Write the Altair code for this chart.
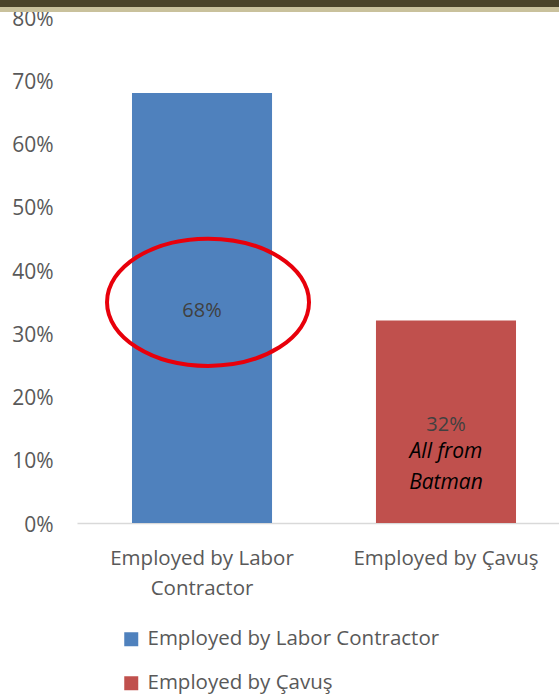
import altair as alt
import pandas as pd

categories = ["Employed by Labor Contractor", "Employed by Çavuş"]
values = [0.68, 0.32]
colors = ["#4F81BD", "#C0504D"]
y_ticks = [0, 0.1, 0.2, 0.3, 0.4, 0.5, 0.6, 0.7, 0.8]
note_lines = ["All from", "Batman"]

FONT = "Open Sans"
W, H = 482, 506

df = pd.DataFrame({"cat": categories, "val": values})

xscale = alt.Scale(domain=categories, range=[0, 494], paddingInner=0.426, paddingOuter=0.2254)
yscale = alt.Scale(domain=[0, 0.8])

base = alt.Chart(df)

bars = base.mark_bar().encode(
    x=alt.X("cat:N", scale=xscale, sort=categories,
            axis=alt.Axis(title=None, labelAngle=0, ticks=False, domainColor="#D9D9D9",
                          domainWidth=1.5, labelFontSize=20.5, labelColor="#595959",
                          labelFont=FONT, labelPadding=25, labelLineHeight=30, labelLimit=400,
                          labelExpr="datum.value == 'Employed by Labor Contractor' ? ['Employed by Labor', 'Contractor'] : datum.value")),
    y=alt.Y("val:Q", scale=yscale,
            axis=alt.Axis(title=None, values=y_ticks, format=".0%", grid=False, domain=False,
                          ticks=False, labelFontSize=21, labelColor="#595959", labelFont=FONT,
                          labelPadding=24, labelBaseline="middle", labelOffset=2)),
    color=alt.Color("cat:N", scale=alt.Scale(domain=categories, range=colors), sort=categories,
                    legend=alt.Legend(title=None, orient="none", legendX=44, legendY=612,
                                      direction="vertical", symbolType="square", symbolSize=196,
                                      symbolStrokeWidth=0, labelFontSize=20.5, labelColor="#595959",
                                      labelFont=FONT, rowPadding=23, labelOffset=6, labelLimit=400)),
)

labels = base.transform_calculate(mid="datum.val / 2").mark_text(
    fontSize=20, color="#404040", font=FONT, dy=3
).encode(
    x=alt.X("cat:N", scale=xscale, sort=categories),
    y=alt.Y("mid:Q", scale=yscale),
    text=alt.Text("val:Q", format=".0%"),
)

note_df = pd.DataFrame({"cat": [categories[1]], "y": [0.113], "txt": [note_lines]})
note = alt.Chart(note_df).mark_text(
    fontSize=21, fontStyle="italic", color="#000000", font=FONT, lineHeight=31, baseline="middle"
).encode(
    x=alt.X("cat:N", scale=xscale, sort=categories),
    y=alt.Y("y:Q", scale=yscale),
    text="txt",
)

ell_df = pd.DataFrame({"cat": [categories[0]], "y": [0.349]})
ellipse = alt.Chart(ell_df).mark_point(
    shape="M -1 0 A 1 0.63 0 1 0 1 0 A 1 0.63 0 1 0 -1 0",
    size=202 * 202, filled=False, stroke="#E8000B", strokeWidth=4, opacity=1, xOffset=6
).encode(
    x=alt.X("cat:N", scale=xscale, sort=categories),
    y=alt.Y("y:Q", scale=yscale),
)

band_df = pd.DataFrame({"k": [0]})
band_dark = alt.Chart(band_df).mark_rect(color="#4A4329").encode(
    x=alt.value(-77), x2=alt.value(W), y=alt.value(-17), y2=alt.value(-10)
)
band_light = alt.Chart(band_df).mark_rect(color="#C9C19C").encode(
    x=alt.value(-77), x2=alt.value(W), y=alt.value(-10), y2=alt.value(-5)
)

chart = alt.layer(bars, labels, note, ellipse, band_dark, band_light).properties(
    width=W, height=H,
    background="white",
    autosize=alt.AutoSizeParams(type="none"),
    padding={"left": 77, "top": 17, "right": 0, "bottom": 171},
).configure_view(strokeWidth=0, stroke="transparent")

chart.save("out.html", embed_options={"renderer": "svg", "actions": False})
